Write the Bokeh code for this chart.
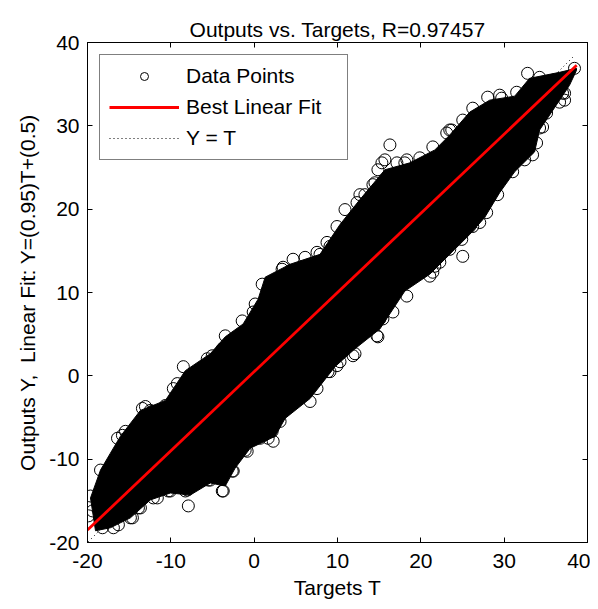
from bokeh.plotting import figure
from bokeh.models import Range1d, LinearAxis, FixedTicker, Legend, LegendItem
from bokeh.embed import file_html
from bokeh.resources import INLINE

# ---- data ----
# dense core of the scatter (upper and lower edges of the solid black band)
core_upper_t = [-19.64, -18.44, -17.25, -16.05, -13.65, -10.66, -8.26, -5.27, -3.47, -1.32, 0.48, 1.32,
                4.31, 7.9, 10.3, 12.69, 15.69, 18.68, 21.68, 23.47, 25.87, 28.26, 31.26, 33.05, 36.65, 38.68]
core_upper_y = [-14.65, -11.31, -9.28, -7.26, -4.15, -2.96, 0.62, 2.65, 4.68, 6.23, 9.21, 11.84,
                13.39, 14.58, 18.16, 21.15, 24.73, 25.56, 27.11, 28.9, 31.65, 33.08, 33.56, 35.7, 36.42, 36.9]
core_lower_t = [-19.04, -17.25, -14.85, -12.46, -10.06, -7.66, -5.27, -3.47, -2.28, -0.48, 2.51, 3.71,
                6.71, 9.7, 12.1, 15.09, 18.08, 21.08, 24.07, 25.87, 27.66, 29.46, 31.26, 33.65, 34.25,
                36.65, 37.84, 38.68]
core_lower_y = [-18.59, -18.23, -17.04, -14.89, -14.06, -14.3, -12.86, -13.22, -11.07, -8.69, -7.26, -5.11,
                -2.72, 1.1, 3.25, 5.63, 10.17, 12.2, 15.18, 16.97, 19.0, 21.98, 24.49, 26.87, 29.5,
                33.08, 34.87, 36.66]

# individual data points visible on the upper fringe of the band
upper_pts_t = [-19.64, -19.88, -19.40, -17.6, -17.49, -17.25, -18.44, -16.41, -15.81, -15.45, -14.25,
               -16.4, -13.41, -13.05, -12.22, -12.46, -10.66, -9.70, -8.62, -8.50, -9.22, -6.23, -5.63,
               -5.03, -3.83, -3.47, -1.44, 0.12, 1.32, -0.12, 0.96, 3.35, 3.47, 4.67, 6.11, 7.54, 7.90,
               8.74, 9.10, 9.94, 10.90, 12.34, 12.69, 13.29, 14.25, 14.49, 14.85, 15.33, 15.69, 16.29,
               17.13, 18.08, 18.32, 19.88, 21.44, 23.11, 23.47, 23.71, 25.03, 26.23, 28.02, 29.46,
               29.70, 31.50, 32.81, 34.25, 35.81, 38.44, 37.25]
upper_pts_y = [-14.42, -16.8, -16.21, -12.03, -13.82, -13.7, -11.31, -9.52, -7.14, -6.66, -6.66,
               -7.49, -3.91, -3.68, -4.27, -4.15, -3.56, -1.53, -1.53, 1.10, -0.93, 0.86, 2.05,
               2.41, 3.25, 4.80, 6.59, 8.62, 8.85, 7.66, 11.0, 12.79, 13.03, 13.99, 14.22, 14.82, 14.58,
               16.01, 15.54, 17.92, 19.95, 20.79, 21.74, 21.74, 22.94, 23.17, 24.73, 25.56, 25.92, 27.71,
               25.56, 25.56, 25.92, 26.16, 27.47, 29.14, 29.50, 29.5, 30.69, 32.12, 33.44, 33.68,
               33.32, 34.03, 36.30, 35.82, 35.47, 36.9, 33.91]

# individual data points visible on the lower fringe of the band
lower_pts_t = [-16.89, -18.20, -16.29, -14.85, -14.61, -13.65, -13.89, -12.1, -11.62, -10.06, -10.30,
               -8.26, -7.9, -8.02, -5.27, -5.51, -3.71, -3.83, -2.51, -2.63, -0.84, -1.08, 0.72, 0.12,
               1.68, 0.96, 0.36, 2.28, 2.16, 3.11, 6.71, 7.54, 8.86, 9.1, 9.94, 10.30, 11.86, 12.1,
               14.73, 14.85, 15.09, 15.45, 16.65, 18.32, 21.08, 21.68, 21.44, 22.28, 23.47, 25.03,
               24.91, 25.87, 26.23, 27.07, 27.90, 29.22, 31.02, 32.46, 33.41, 33.89, 34.25, 34.61,
               35.09, 37.01, 37.25, 36.65]
lower_pts_y = [-18.23, -18.23, -17.88, -17.04, -17.04, -15.85, -15.85, -14.65, -14.65, -13.82, -13.82,
               -13.82, -15.61, -13.7, -12.51, -12.51, -13.82, -13.82, -11.43, -11.43, -9.05, -8.93, -7.49,
               -7.49, -7.49, -6.06, -7.14, -7.85, -6.66, -5.47, -3.08, -1.53, 0.50, 0.5, 1.22, 1.69,
               2.41, 2.65, 4.80, 4.68, 6.83, 6.83, 7.66, 9.57, 11.96, 13.15, 12.43, 13.63, 15.18, 14.34,
               16.37, 17.92, 17.92, 18.40, 19.59, 21.74, 24.49, 25.92, 26.52, 27.95, 29.74, 29.86,
               31.53, 33.91, 33.08, 32.84]

fit_t = [-20.0, 38.7]
fit_y = [-18.5, 37.27]
ident_t = [-19.9, 38.3]
ident_y = [-19.9, 38.3]

ticks = [-20, -10, 0, 10, 20, 30, 40]
tick_labels = ["-20", "-10", "0", "10", "20", "30", "40"]
title_text = "Outputs vs. Targets, R=0.97457"
xlabel = "Targets T"
ylabel = "Outputs Y,\u00a0 Linear Fit: Y=(0.95)T+(0.5)"
legend_labels = ["Data Points", "Best Linear Fit", "Y = T"]

FONT = "Liberation Sans"
FS = "21px"

p = figure(width=590, height=601, output_backend="svg", toolbar_location=None,
           x_range=Range1d(-20, 40), y_range=Range1d(-20, 40),
           min_border_left=87, min_border_right=3, min_border_top=42, min_border_bottom=56)
p.title.text = title_text
p.title.align = "center"
p.title.text_font = FONT
p.title.text_font_size = FS
p.title.text_font_style = "normal"
p.title.text_color = "black"
p.title.standoff = 4

p.xgrid.visible = False
p.ygrid.visible = False
p.outline_line_color = "black"
p.outline_line_width = 1
p.background_fill_color = "white"
p.border_fill_color = "white"

overrides = {t: s for t, s in zip(ticks, tick_labels)}
for ax in (p.xaxis[0], p.yaxis[0]):
    ax.ticker = FixedTicker(ticks=ticks)
    ax.major_label_overrides = overrides
    ax.major_tick_in = 5
    ax.major_tick_out = 0
    ax.minor_tick_in = 0
    ax.minor_tick_out = 0
    ax.axis_line_color = "black"
    ax.major_tick_line_color = "black"
    ax.major_label_text_font = FONT
    ax.major_label_text_font_size = FS
    ax.major_label_text_color = "black"
    ax.axis_label_text_font = FONT
    ax.axis_label_text_font_size = FS
    ax.axis_label_text_font_style = "normal"
    ax.axis_label_text_color = "black"
p.xaxis.axis_label = xlabel
p.yaxis.axis_label = ylabel
p.xaxis.major_label_standoff = 11
p.yaxis.major_label_standoff = 8
p.xaxis.axis_label_standoff = 5
p.yaxis.axis_label_standoff = 7

for side in ("right", "above"):
    ax = LinearAxis(ticker=FixedTicker(ticks=ticks), major_label_text_font_size="0px",
                    major_tick_in=5, major_tick_out=0, minor_tick_in=0, minor_tick_out=0,
                    axis_line_color="black", major_tick_line_color="black")
    p.add_layout(ax, side)

r_ident = p.line(ident_t, ident_y, line_color="black", line_dash="1 3", line_width=1)

band_t = core_upper_t + core_lower_t[::-1]
band_y = core_upper_y + core_lower_y[::-1]
p.patch(band_t, band_y, fill_color="black", line_color="black", line_width=1)

r_pts = p.scatter(upper_pts_t + lower_pts_t, upper_pts_y + lower_pts_y, marker="circle", size=12,
                  fill_color=None, line_color="black", line_width=1)

r_fit = p.line(fit_t, fit_y, line_color="#ff0000", line_width=2.8)

legend = Legend(items=[LegendItem(label=legend_labels[0], renderers=[r_pts]),
                       LegendItem(label=legend_labels[1], renderers=[r_fit]),
                       LegendItem(label=legend_labels[2], renderers=[r_ident])],
                location="top_left")
legend.margin = 12
legend.padding = 9
legend.spacing = 7
legend.glyph_width = 70
legend.glyph_height = 20
legend.label_height = 20
legend.label_width = 152
legend.label_standoff = 7
legend.label_text_font = FONT
legend.label_text_font_size = FS
legend.label_text_color = "black"
legend.border_line_color = "black"
legend.border_line_width = 1
legend.background_fill_alpha = 1
p.add_layout(legend)

open("out.html", "w").write(file_html(p, INLINE))
